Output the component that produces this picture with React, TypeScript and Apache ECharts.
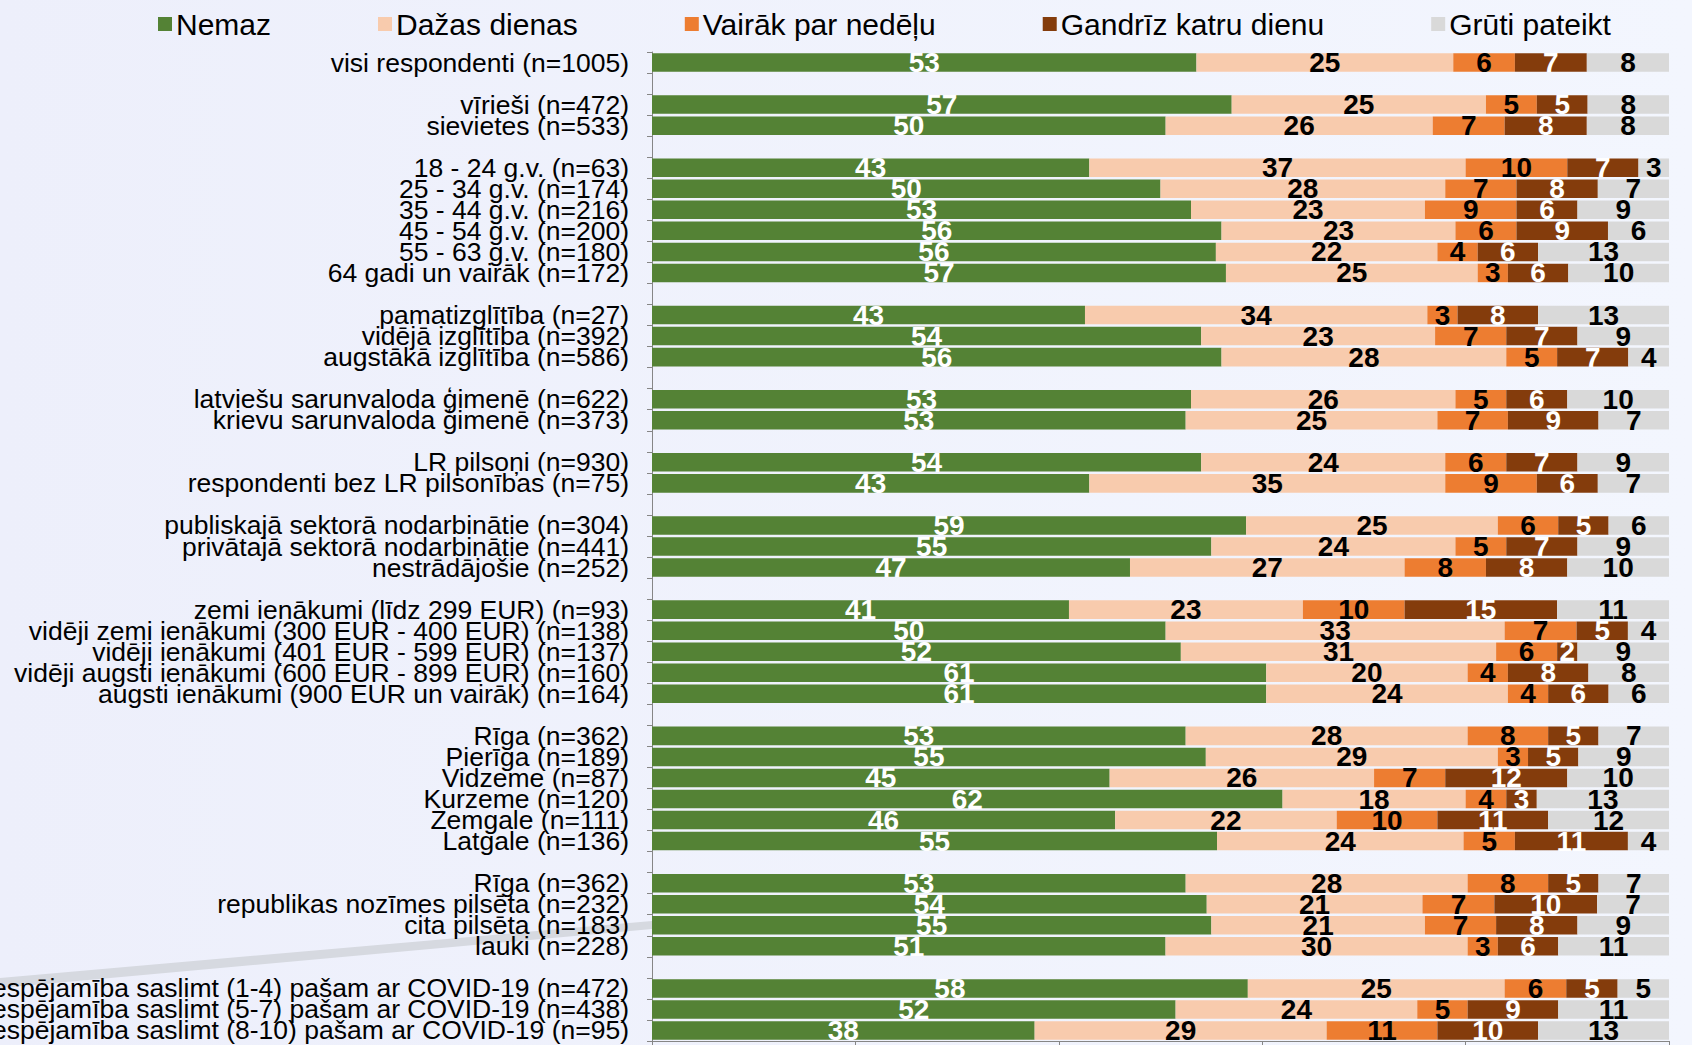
import React, { useEffect, useRef } from "react";
import * as echarts from "echarts";

const categories: string[] = [
  "visi respondenti (n=1005)",
  "",
  "vīrieši (n=472)",
  "sievietes (n=533)",
  "",
  "18 - 24 g.v. (n=63)",
  "25 - 34 g.v. (n=174)",
  "35 - 44 g.v. (n=216)",
  "45 - 54 g.v. (n=200)",
  "55 - 63 g.v. (n=180)",
  "64 gadi un vairāk (n=172)",
  "",
  "pamatizglītība (n=27)",
  "vidējā izglītība (n=392)",
  "augstākā izglītība (n=586)",
  "",
  "latviešu sarunvaloda ģimenē (n=622)",
  "krievu sarunvaloda ģimenē (n=373)",
  "",
  "LR pilsoņi (n=930)",
  "respondenti bez LR pilsonības (n=75)",
  "",
  "publiskajā sektorā nodarbinātie (n=304)",
  "privātajā sektorā nodarbinātie (n=441)",
  "nestrādājošie (n=252)",
  "",
  "zemi ienākumi (līdz 299 EUR) (n=93)",
  "vidēji zemi ienākumi (300 EUR - 400 EUR) (n=138)",
  "vidēji ienākumi (401 EUR - 599 EUR) (n=137)",
  "vidēji augsti ienākumi (600 EUR - 899 EUR) (n=160)",
  "augsti ienākumi (900 EUR un vairāk) (n=164)",
  "",
  "Rīga (n=362)",
  "Pierīga (n=189)",
  "Vidzeme (n=87)",
  "Kurzeme (n=120)",
  "Zemgale (n=111)",
  "Latgale (n=136)",
  "",
  "Rīga (n=362)",
  "republikas nozīmes pilsēta (n=232)",
  "cita pilsēta (n=183)",
  "lauki (n=228)",
  "",
  "Iespējamība saslimt (1-4) pašam ar COVID-19 (n=472)",
  "Iespējamība saslimt (5-7) pašam ar COVID-19 (n=438)",
  "Iespējamība saslimt (8-10) pašam ar COVID-19 (n=95)",
];

const seriesNames = ["Nemaz", "Dažas dienas", "Vairāk par nedēļu", "Gandrīz katru dienu", "Grūti pateikt"];

const nemaz: (number | null)[] = [53, null, 57, 50, null, 43, 50, 53, 56, 56, 57, null, 43, 54, 56, null, 53, 53, null, 54, 43, null, 59, 55, 47, null, 41, 50, 52, 61, 61, null, 53, 55, 45, 62, 46, 55, null, 53, 54, 55, 51, null, 58, 52, 38];
const dazas: (number | null)[] = [25, null, 25, 26, null, 37, 28, 23, 23, 22, 25, null, 34, 23, 28, null, 26, 25, null, 24, 35, null, 25, 24, 27, null, 23, 33, 31, 20, 24, null, 28, 29, 26, 18, 22, 24, null, 28, 21, 21, 30, null, 25, 24, 29];
const vairak: (number | null)[] = [6, null, 5, 7, null, 10, 7, 9, 6, 4, 3, null, 3, 7, 5, null, 5, 7, null, 6, 9, null, 6, 5, 8, null, 10, 7, 6, 4, 4, null, 8, 3, 7, 4, 10, 5, null, 8, 7, 7, 3, null, 6, 5, 11];
const gandriz: (number | null)[] = [7, null, 5, 8, null, 7, 8, 6, 9, 6, 6, null, 8, 7, 7, null, 6, 9, null, 7, 6, null, 5, 7, 8, null, 15, 5, 2, 8, 6, null, 5, 5, 12, 3, 11, 11, null, 5, 10, 8, 6, null, 5, 9, 10];
const gruti: (number | null)[] = [8, null, 8, 8, null, 3, 7, 9, 6, 13, 10, null, 13, 9, 4, null, 10, 7, null, 9, 7, null, 6, 9, 10, null, 11, 4, 9, 8, 6, null, 7, 9, 10, 13, 12, 4, null, 7, 7, 9, 11, null, 5, 11, 13];

const xTicks = [0, 20, 40, 60, 80, 100];

const colors = ["#548235", "#F8CBAD", "#ED7D31", "#843C0C", "#D9D9D9"];
const labelColors = ["#FFFFFF", "#000000", "#000000", "#FFFFFF", "#000000"];

const FONT = "'Liberation Sans', Arial, sans-serif";

export default function App() {
  const ref = useRef<HTMLDivElement>(null);

  useEffect(() => {
    if (!ref.current) return;
    const chart = echarts.init(ref.current, null, { renderer: "svg" });
    const raw = [nemaz, dazas, vairak, gandriz, gruti];
    const totals = categories.map((_, i) => {
      let s = 0;
      raw.forEach((arr) => {
        const v = arr[i];
        if (v != null) s += v;
      });
      return s;
    });

    const series = raw.map((arr, k) => ({
      name: seriesNames[k],
      type: "bar",
      stack: "total",
      barCategoryGap: "12%",
      itemStyle: { color: colors[k] },
      label: {
        show: true,
        position: "inside",
        color: labelColors[k],
        fontFamily: FONT,
        fontWeight: "bold",
        fontSize: 28,
        formatter: (p: any) => (p.data && p.data.raw != null ? String(p.data.raw) : ""),
      },
      data: arr.map((v, i) =>
        v == null ? { value: null, raw: null } : { value: (v / totals[i]) * 100, raw: v }
      ),
    }));

    chart.setOption({
      animation: false,
      backgroundColor: "transparent",
      textStyle: { fontFamily: FONT },
      legend: {
        data: seriesNames.map((n, k) => ({ name: n, itemStyle: { color: colors[k] } })),
        icon: "rect",
        itemWidth: 14,
        itemHeight: 14,
        itemGap: 107,
        left: 153,
        top: 4,
        textStyle: { fontSize: 30, color: "#000", fontFamily: FONT, padding: [0, 0, 0, -1] },
      },
      grid: {
        left: 652,
        right: 23,
        top: 52,
        bottom: 4,
        containLabel: false,
        outerBoundsMode: "none",
      },
      xAxis: {
        type: "value",
        min: xTicks[0],
        max: xTicks[xTicks.length - 1],
        interval: 20,
        splitLine: { show: false },
        axisLine: { show: true, lineStyle: { color: "#868686", width: 1 } },
        axisTick: { show: true, length: 5, lineStyle: { color: "#868686" } },
        axisLabel: { show: false },
      },
      yAxis: {
        type: "category",
        inverse: true,
        data: categories,
        axisLine: { show: true, lineStyle: { color: "#868686", width: 1 } },
        axisTick: { show: true, length: 5, lineStyle: { color: "#868686" } },
        axisLabel: {
          interval: 0,
          color: "#000",
          fontSize: 26.5,
          fontFamily: FONT,
          margin: 23,
        },
      },
      graphic: [
        {
          type: "polygon",
          z: -10,
          silent: true,
          shape: { points: [[0, 978], [652, 921], [652, 929], [0, 988]] },
          style: { fill: "#D6D9E0" },
        },
      ],
      series,
    });
    return () => chart.dispose();
  }, []);

  return (
    <div
      ref={ref}
      style={{
        position: "fixed",
        left: 0,
        top: 0,
        width: 1692,
        height: 1045,
        background: "linear-gradient(90deg, #EDEFFB 0%, #F3F6FE 100%)",
      }}
    />
  );
}
